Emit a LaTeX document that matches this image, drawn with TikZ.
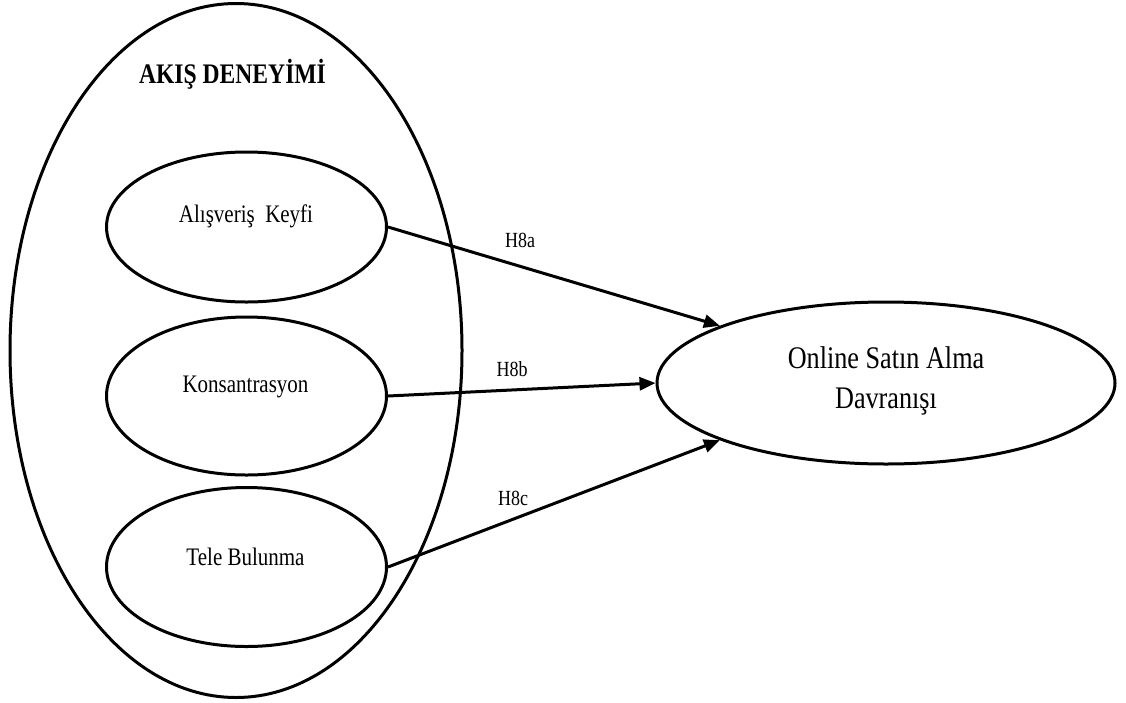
\documentclass[tikz,border=0pt]{standalone}
\usepackage{fontspec}
\setmainfont{Liberation Serif}
\usetikzlibrary{shapes.geometric,arrows.meta}
% text in this figure is set slightly taller than wide
\newcommand{\tallt}[1]{\scalebox{1}[1.2]{#1}}
\begin{document}
\begin{tikzpicture}[x=1pt,y=-1pt,
  oval/.style={ellipse,draw,line width=3pt,inner sep=0pt},
  factor/.style={oval,minimum width=280pt},
  lbl/.style={inner sep=0pt,anchor=base,font=\fontsize{21}{25}\selectfont},
  hyp/.style={inner sep=0pt,anchor=base,font=\fontsize{18}{21}\selectfont},
  link/.style={line width=3pt,-{Triangle[length=16pt,width=13pt]}}]
\useasboundingbox (0,0) rectangle (1126,702);

% outer construct: flow experience
\node[oval,minimum width=452pt,minimum height=694pt] (flow) at (236,350.5) {};
\node[inner sep=0pt,anchor=base,font=\bfseries\fontsize{23.6}{28}\selectfont] (flowtitle) at (232.5,83) {\tallt{AKIŞ DENEYİMİ}};

% sub-dimensions
\node[factor,minimum height=150pt] (keyfi) at (246.5,227) {};
\node[lbl] (keyfitext) at (246,222) {\tallt{Alışveriş\ \ Keyfi}};
\node[factor,minimum height=158pt] (kons) at (246.5,396) {};
\node[lbl] (konstext) at (245.5,392) {\tallt{Konsantrasyon}};
\node[factor,minimum height=159pt] (tele) at (246.5,567) {};
\node[lbl] (teletext) at (245.5,565) {\tallt{Tele Bulunma}};

% outcome
\node[oval,minimum width=458pt,minimum height=162pt] (target) at (886,383) {};
\node[inner sep=0pt,anchor=base,font=\fontsize{26.2}{33.3}\selectfont] (targettext) at (886,368.3)
  {\tallt{\begin{tabular}[t]{@{}c@{}}Online Satın Alma\\Davranışı\end{tabular}}};

% hypotheses
\draw[link] (keyfi.east) -- (target.161);
\draw[link] (kons.east) -- (target.west);
\draw[link] (tele.east) -- (target.199);
\node[hyp] (h8a) at (520,247) {\tallt{H8a}};
\node[hyp] (h8b) at (512,376.7) {\tallt{H8b}};
\node[hyp] (h8c) at (513,505) {\tallt{H8c}};
\end{tikzpicture}
\end{document}
